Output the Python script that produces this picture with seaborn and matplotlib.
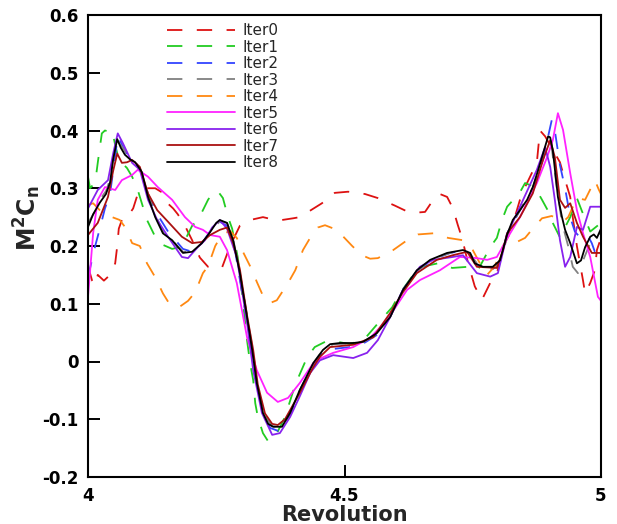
import matplotlib
matplotlib.use("Agg")
import matplotlib.pyplot as plt
import seaborn as sns
import pandas as pd
from matplotlib.ticker import FixedLocator, FixedFormatter

# ---------------- data ----------------
labels = ["Iter0", "Iter1", "Iter2", "Iter3", "Iter4", "Iter5", "Iter6", "Iter7", "Iter8"]

x0 = [4.000,4.008,4.014,4.019,4.031,4.043,4.053,4.057,4.060,4.068,4.078,4.088,4.097,4.111,4.131,4.144,4.154,4.166,4.175,4.189,4.203,4.218,4.234,4.248,4.261,4.277,4.296,4.316,4.341,4.365,4.378,4.400,4.413,4.429,4.456,4.481,4.507,4.540,4.565,4.598,4.624,4.643,4.657,4.673,4.686,4.700,4.711,4.721,4.729,4.741,4.754,4.768,4.784,4.797,4.809,4.817,4.832,4.842,4.852,4.865,4.875,4.881,4.891,4.904,4.920,4.926,4.940,4.943,4.953,4.965,4.969,4.979,4.988,4.992,5.000]
y0 = [0.165,0.140,0.132,0.150,0.140,0.150,0.170,0.200,0.230,0.250,0.252,0.265,0.290,0.300,0.300,0.293,0.275,0.265,0.255,0.235,0.210,0.180,0.164,0.162,0.162,0.200,0.235,0.245,0.250,0.245,0.245,0.248,0.250,0.259,0.274,0.292,0.294,0.290,0.283,0.270,0.259,0.258,0.259,0.280,0.290,0.285,0.266,0.236,0.214,0.170,0.130,0.107,0.136,0.153,0.193,0.215,0.250,0.280,0.302,0.326,0.345,0.400,0.390,0.370,0.345,0.326,0.285,0.262,0.200,0.140,0.118,0.136,0.158,0.193,0.214]

x1 = [4.000,4.004,4.014,4.019,4.023,4.027,4.033,4.041,4.047,4.053,4.058,4.066,4.076,4.086,4.097,4.107,4.115,4.131,4.146,4.164,4.179,4.189,4.203,4.214,4.224,4.234,4.244,4.253,4.263,4.273,4.281,4.292,4.300,4.310,4.316,4.322,4.326,4.331,4.341,4.351,4.365,4.384,4.404,4.427,4.442,4.462,4.481,4.511,4.540,4.569,4.593,4.608,4.634,4.651,4.682,4.710,4.741,4.760,4.784,4.797,4.807,4.817,4.842,4.852,4.871,4.885,4.901,4.906,4.920,4.940,4.953,4.963,4.979,5.000]
y1 = [0.320,0.300,0.310,0.344,0.370,0.395,0.400,0.398,0.400,0.375,0.357,0.344,0.335,0.320,0.297,0.268,0.245,0.216,0.202,0.195,0.198,0.210,0.235,0.245,0.262,0.280,0.293,0.295,0.283,0.250,0.230,0.180,0.120,0.037,-0.003,-0.032,-0.072,-0.096,-0.124,-0.138,-0.130,-0.096,-0.040,0.007,0.025,0.034,0.035,0.030,0.040,0.070,0.094,0.118,0.150,0.164,0.170,0.162,0.164,0.158,0.198,0.214,0.245,0.268,0.293,0.309,0.302,0.280,0.254,0.240,0.215,0.250,0.283,0.260,0.225,0.240]

x2 = [4.000,4.014,4.023,4.033,4.043,4.049,4.058,4.068,4.082,4.101,4.117,4.135,4.156,4.185,4.203,4.222,4.238,4.257,4.271,4.287,4.302,4.316,4.329,4.341,4.355,4.370,4.394,4.413,4.439,4.462,4.481,4.511,4.540,4.565,4.589,4.614,4.641,4.673,4.706,4.731,4.745,4.764,4.789,4.803,4.817,4.842,4.867,4.887,4.897,4.904,4.910,4.920,4.930,4.940,4.949,4.959,4.973,4.982,4.988,5.000]
y2 = [0.146,0.200,0.230,0.265,0.290,0.330,0.390,0.372,0.348,0.335,0.290,0.255,0.225,0.195,0.190,0.205,0.225,0.242,0.235,0.190,0.110,0.040,-0.035,-0.090,-0.115,-0.120,-0.092,-0.050,-0.005,0.020,0.022,0.025,0.033,0.047,0.078,0.124,0.157,0.177,0.188,0.192,0.185,0.160,0.160,0.172,0.222,0.262,0.300,0.350,0.390,0.418,0.400,0.340,0.300,0.250,0.225,0.215,0.220,0.205,0.190,0.200]

x3 = [4.000,4.014,4.023,4.035,4.043,4.049,4.057,4.066,4.076,4.088,4.101,4.117,4.131,4.146,4.164,4.185,4.203,4.222,4.238,4.257,4.271,4.283,4.296,4.310,4.322,4.331,4.343,4.359,4.378,4.394,4.413,4.439,4.458,4.478,4.517,4.540,4.565,4.589,4.614,4.641,4.673,4.706,4.731,4.745,4.758,4.774,4.793,4.807,4.819,4.842,4.867,4.885,4.897,4.904,4.914,4.924,4.936,4.945,4.955,4.965,4.979,4.992,5.000]
y3 = [0.240,0.260,0.280,0.295,0.315,0.350,0.383,0.372,0.360,0.350,0.335,0.290,0.255,0.225,0.210,0.190,0.190,0.205,0.222,0.243,0.240,0.212,0.155,0.080,0.015,-0.045,-0.092,-0.112,-0.114,-0.090,-0.050,-0.003,0.020,0.030,0.031,0.035,0.050,0.077,0.123,0.157,0.178,0.188,0.192,0.186,0.170,0.163,0.163,0.180,0.225,0.262,0.300,0.352,0.385,0.370,0.300,0.240,0.200,0.164,0.153,0.175,0.205,0.215,0.225]

x4 = [4.000,4.010,4.023,4.037,4.047,4.062,4.072,4.086,4.101,4.115,4.131,4.146,4.160,4.179,4.195,4.209,4.224,4.234,4.248,4.261,4.277,4.290,4.302,4.320,4.329,4.345,4.357,4.368,4.390,4.404,4.419,4.433,4.448,4.462,4.485,4.515,4.534,4.550,4.565,4.595,4.622,4.643,4.673,4.702,4.731,4.750,4.764,4.778,4.793,4.809,4.823,4.836,4.852,4.865,4.885,4.904,4.926,4.936,4.953,4.969,4.988,4.996,5.000]
y4 = [0.271,0.274,0.262,0.254,0.250,0.245,0.233,0.205,0.200,0.170,0.146,0.118,0.098,0.095,0.105,0.120,0.153,0.165,0.200,0.220,0.226,0.214,0.190,0.158,0.138,0.106,0.102,0.106,0.136,0.158,0.193,0.214,0.232,0.236,0.228,0.200,0.184,0.178,0.179,0.193,0.210,0.220,0.222,0.214,0.210,0.193,0.170,0.150,0.165,0.200,0.222,0.207,0.214,0.228,0.248,0.252,0.242,0.250,0.283,0.280,0.314,0.297,0.290]

x5 = [4.000,4.010,4.019,4.033,4.053,4.066,4.086,4.097,4.117,4.136,4.164,4.189,4.209,4.224,4.238,4.257,4.271,4.290,4.310,4.329,4.349,4.370,4.390,4.413,4.439,4.452,4.478,4.517,4.550,4.583,4.622,4.647,4.686,4.725,4.745,4.758,4.778,4.797,4.823,4.842,4.875,4.895,4.906,4.916,4.926,4.940,4.953,4.965,4.979,4.994,5.000]
y5 = [0.112,0.222,0.280,0.302,0.297,0.314,0.323,0.332,0.320,0.302,0.280,0.250,0.233,0.228,0.219,0.216,0.193,0.136,0.042,-0.015,-0.054,-0.070,-0.063,-0.037,-0.003,0.005,0.015,0.025,0.041,0.072,0.124,0.141,0.158,0.181,0.180,0.179,0.176,0.181,0.222,0.250,0.309,0.354,0.383,0.430,0.401,0.326,0.262,0.222,0.181,0.112,0.105]

x6 = [4.000,4.019,4.039,4.049,4.058,4.068,4.086,4.101,4.117,4.135,4.156,4.183,4.195,4.214,4.228,4.242,4.257,4.271,4.290,4.310,4.322,4.339,4.359,4.374,4.394,4.413,4.433,4.452,4.478,4.517,4.544,4.565,4.589,4.614,4.647,4.673,4.711,4.731,4.758,4.784,4.799,4.817,4.842,4.875,4.891,4.901,4.910,4.920,4.930,4.940,4.953,4.965,4.979,5.000]
y6 = [0.265,0.297,0.314,0.360,0.395,0.378,0.344,0.332,0.280,0.245,0.216,0.181,0.179,0.198,0.210,0.232,0.245,0.230,0.181,0.067,-0.015,-0.089,-0.127,-0.124,-0.096,-0.060,-0.020,0.002,0.011,0.006,0.015,0.037,0.077,0.124,0.164,0.176,0.181,0.184,0.153,0.147,0.153,0.220,0.268,0.332,0.371,0.337,0.280,0.210,0.164,0.181,0.233,0.228,0.268,0.268]

x7 = [4.000,4.019,4.039,4.049,4.057,4.066,4.076,4.086,4.101,4.117,4.135,4.156,4.183,4.203,4.222,4.238,4.257,4.271,4.283,4.296,4.310,4.322,4.331,4.345,4.359,4.370,4.384,4.413,4.439,4.452,4.472,4.517,4.556,4.589,4.614,4.641,4.680,4.711,4.739,4.758,4.797,4.809,4.817,4.842,4.867,4.887,4.901,4.910,4.920,4.930,4.940,4.953,4.965,4.982,5.000]
y7 = [0.219,0.240,0.285,0.330,0.360,0.344,0.345,0.349,0.337,0.291,0.262,0.242,0.216,0.205,0.207,0.219,0.228,0.232,0.205,0.160,0.080,0.020,-0.040,-0.090,-0.108,-0.110,-0.100,-0.054,-0.010,0.008,0.025,0.029,0.042,0.084,0.120,0.153,0.176,0.184,0.190,0.164,0.162,0.193,0.222,0.250,0.291,0.349,0.383,0.354,0.280,0.266,0.274,0.240,0.216,0.188,0.188]

x8 = [4.000,4.010,4.023,4.035,4.043,4.049,4.057,4.064,4.072,4.082,4.092,4.105,4.117,4.131,4.146,4.164,4.185,4.203,4.222,4.238,4.250,4.257,4.271,4.283,4.296,4.310,4.320,4.329,4.341,4.351,4.361,4.378,4.394,4.413,4.439,4.458,4.472,4.491,4.517,4.536,4.563,4.589,4.614,4.641,4.667,4.700,4.731,4.745,4.754,4.770,4.789,4.803,4.817,4.828,4.842,4.856,4.867,4.877,4.885,4.897,4.901,4.906,4.916,4.924,4.930,4.940,4.953,4.961,4.969,4.979,4.986,4.992,5.000]
y8 = [0.233,0.255,0.275,0.290,0.310,0.350,0.385,0.370,0.358,0.350,0.345,0.328,0.285,0.250,0.222,0.210,0.188,0.190,0.205,0.224,0.240,0.245,0.240,0.210,0.153,0.077,0.020,-0.037,-0.089,-0.108,-0.113,-0.113,-0.089,-0.049,-0.003,0.020,0.030,0.032,0.032,0.034,0.049,0.077,0.124,0.158,0.176,0.188,0.193,0.188,0.170,0.164,0.164,0.175,0.220,0.245,0.262,0.280,0.302,0.330,0.354,0.390,0.388,0.366,0.285,0.250,0.228,0.205,0.170,0.175,0.198,0.216,0.220,0.214,0.230]

xs = [x0, x1, x2, x3, x4, x5, x6, x7, x8]
ys = [y0, y1, y2, y3, y4, y5, y6, y7, y8]

colors = ["#dd1111", "#22cc22", "#3344ff", "#808080", "#ff8811",
          "#ff22ff", "#8822ee", "#aa1111", "#000000"]
dashed = [True, True, True, True, True, False, False, False, False]

x_ticks = [4, 4.5, 5]
x_tick_labels = ["4", "4.5", "5"]
y_ticks = [-0.2, -0.1, 0, 0.1, 0.2, 0.3, 0.4, 0.5, 0.6]
y_tick_labels = ["-0.2", "-0.1", "0", "0.1", "0.2", "0.3", "0.4", "0.5", "0.6"]

# ---------------- style ----------------
sns.set_theme(style="white")
plt.rcParams["font.family"] = ["DejaVu Sans"]
plt.rcParams["mathtext.fontset"] = "custom"
plt.rcParams["mathtext.rm"] = "DejaVu Sans:bold"
plt.rcParams["mathtext.bf"] = "DejaVu Sans:bold"
plt.rcParams["mathtext.it"] = "DejaVu Sans:bold"

fig = plt.figure(figsize=(6.17, 5.24), dpi=100)
ax = fig.add_axes([88 / 617, 1 - 477 / 524, 513 / 617, 462 / 524])

for lab, xv, yv, c, d in zip(labels, xs, ys, colors, dashed):
    df = pd.DataFrame({"Revolution": xv, "val": yv})
    kw = dict(linestyle=(0, (8.5, 8.0))) if d else dict(linestyle="-")
    sns.lineplot(data=df, x="Revolution", y="val", ax=ax, color=c, lw=1.3,
                 label=lab, estimator=None, sort=False, **kw)

ax.set_xlim(4, 5)
ax.set_ylim(-0.2, 0.6)
ax.xaxis.set_major_locator(FixedLocator(x_ticks))
ax.xaxis.set_major_formatter(FixedFormatter(x_tick_labels))
ax.yaxis.set_major_locator(FixedLocator(y_ticks))
ax.yaxis.set_major_formatter(FixedFormatter(y_tick_labels))
ax.tick_params(axis="both", direction="in", length=8.5, width=1.4,
               labelsize=12, pad=7, color="black", labelcolor="black",
               bottom=True, left=True, top=False, right=False)
for t in ax.get_xticklabels() + ax.get_yticklabels():
    t.set_fontweight("bold")

for s in ax.spines.values():
    s.set_visible(True)
    s.set_color("black")
    s.set_linewidth(1.5)

ax.set_xlabel("Revolution", fontsize=15, fontweight="bold", labelpad=0)
ax.set_ylabel(r"$\mathrm{M^2C_n}$", fontsize=17)
ax.yaxis.set_label_coords(-0.088, 0.56)

leg = ax.legend(loc="upper left", bbox_to_anchor=(167 / 617, 1 - 23 / 524),
                bbox_transform=fig.transFigure, frameon=False, fontsize=11,
                handlelength=4.45, handletextpad=0.5, labelspacing=0.1,
                borderpad=0, borderaxespad=0)

fig.savefig("out.png", dpi=100)
